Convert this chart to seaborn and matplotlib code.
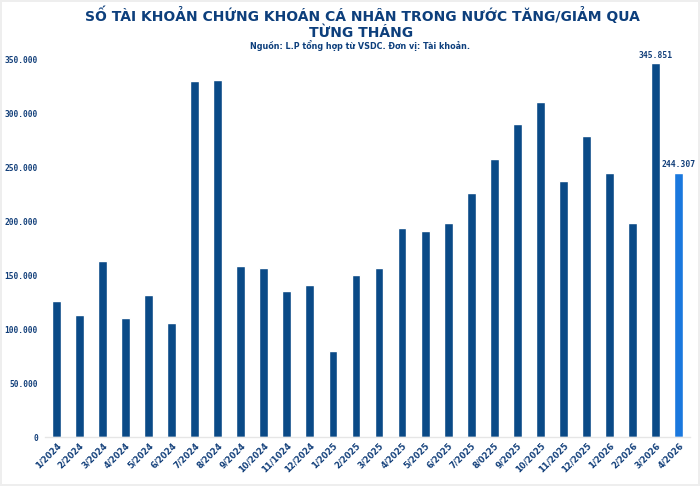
import matplotlib
matplotlib.use("Agg")
import matplotlib.pyplot as plt
import seaborn as sns
import pandas as pd
from matplotlib.ticker import FuncFormatter

months = ["1/2024", "2/2024", "3/2024", "4/2024", "5/2024", "6/2024", "7/2024", "8/2024",
          "9/2024", "10/2024", "11/1024", "12/2024", "1/2025", "2/2025", "3/2025", "4/2025",
          "5/2025", "6/2025", "7/2025", "8/0225", "9/2025", "10/2025", "11/2025", "12/2025",
          "1/2026", "2/2026", "3/2026", "4/2026"]
values = [125600, 113000, 163000, 110500, 131500, 106000, 329600, 330600,
          158000, 156500, 135000, 140500, 80000, 149700, 156800, 193800,
          190400, 198400, 225600, 257000, 289800, 310000, 236700, 279000,
          244000, 198000, 345851, 244307]
labelled = {"3/2026": "345.851", "4/2026": "244.307"}

dark = "#0a4a87"
bright = "#1a78de"
navy = "#123f7a"

df = pd.DataFrame({"month": months, "value": values})
palette = [bright if m == "4/2026" else dark for m in months]

sns.set_theme(style="white")
plt.rcParams['font.family'] = ['DejaVu Sans']

fig = plt.figure(figsize=(7, 4.86), dpi=100)
fig.patch.set_facecolor("white")
fig.patch.set_edgecolor("#eeeeee")
fig.patch.set_linewidth(1.5)
ax = fig.add_axes([0.064, 0.1008, 0.922, 0.80])

sns.barplot(data=df, x="month", y="value", hue="month", palette=palette,
            legend=False, width=0.38, ax=ax, saturation=1)

ax.set_xlim(-0.5, len(months) - 0.5)
ax.set_ylim(0, 360000)
ax.set_yticks(range(0, 350001, 50000))
ax.yaxis.set_major_formatter(FuncFormatter(lambda v, p: f"{int(v):,}".replace(",", ".")))
for lab in ax.get_yticklabels():
    lab.set_fontfamily("DejaVu Sans Mono")
    lab.set_fontweight("bold")
    lab.set_fontsize(5.7)
    lab.set_color(navy)
ax.tick_params(axis="y", length=0, pad=5)
ax.tick_params(axis="x", length=0, pad=3)
ax.set_xticks(range(len(months)))
ax.set_xticklabels(months, rotation=45, ha="right", rotation_mode="anchor",
                   fontsize=6.0, fontweight="bold", color=navy)
ax.set_xlabel("")
ax.set_ylabel("")
for s in ["top", "right", "left"]:
    ax.spines[s].set_visible(False)
ax.spines["bottom"].set_color("#e6e6e6")
ax.spines["bottom"].set_linewidth(1)

for i, m in enumerate(months):
    if m in labelled:
        ax.text(i, values[i] + 3500, labelled[m], ha="center", va="bottom",
                fontfamily="DejaVu Sans Mono", fontweight="bold", fontsize=5.8, color=navy)

tcol = "#0d3f7c"
fig.text(0.518, 0.968, "SỐ TÀI KHOẢN CHỨNG KHOÁN CÁ NHÂN TRONG NƯỚC TĂNG/GIẢM QUA",
         ha="center", va="center", fontsize=10.0, fontweight="bold", color=tcol)
fig.text(0.516, 0.932, "TỪNG THÁNG", ha="center", va="center", fontsize=10.0,
         fontweight="bold", color=tcol)
fig.text(0.514, 0.906, "Nguồn: L.P tổng hợp từ VSDC. Đơn vị: Tài khoản.", ha="center",
         va="center", fontsize=5.8, fontweight="bold", color=tcol)

fig.savefig("out.png", dpi=100, facecolor=fig.get_facecolor(), edgecolor=fig.get_edgecolor())
